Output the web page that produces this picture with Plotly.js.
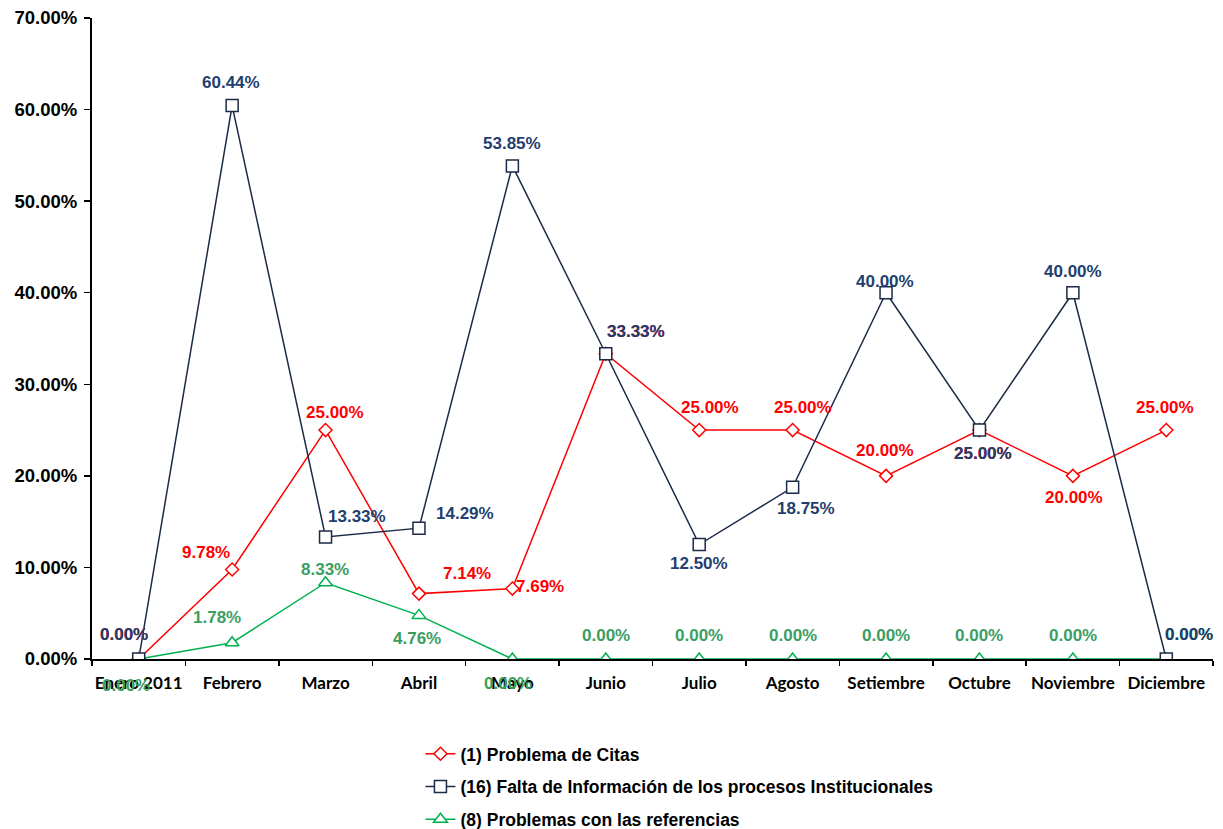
<!DOCTYPE html>
<html>
<head>
<meta charset="utf-8">
<script src="https://cdn.plot.ly/plotly-3.0.1.min.js"></script>
<style>html,body{margin:0;padding:0;background:#fff;}#chart{width:1223px;height:829px;}</style>
</head>
<body>
<div id="chart"></div>
<script>
// ---- Data ----
var months = ["Enero 2011","Febrero","Marzo","Abril","Mayo","Junio","Julio","Agosto","Setiembre","Octubre","Noviembre","Diciembre"];
var citas = [0.0, 0.0978, 0.25, 0.0714, 0.0769, 0.3333, 0.25, 0.25, 0.20, 0.25, 0.20, 0.25];
var faltaInfo = [0.0, 0.6044, 0.1333, 0.1429, 0.5385, 0.3333, 0.125, 0.1875, 0.40, 0.25, 0.40, 0.0];
var referencias = [0.0, 0.0178, 0.0833, 0.0476, 0.0, 0.0, 0.0, 0.0, 0.0, 0.0, 0.0, 0.0];
var names = ["(1) Problema de Citas", "(16) Falta de Información de los procesos Institucionales", "(8) Problemas con las referencias"];

// ---- Label offsets (px, label centre relative to marker) ----
var offRed = [[-15,-25],[-26,-17],[9,-18],[48,-20],[28,-2],[30,-22],[11,-23],[10,-23],[-1,-25],[4,23],[1,22],[-1,-23]];
var offBlue = [[-15,-25],[-1,-23],[31,-20],[46,-15],[0,-22],[30,-22],[0,19],[13,21],[-1,-11],[4,23],[0,-21],[23,-25]];
var offGreen = [[-13,26],[-15,-25],[-1,-13],[-2,23],[-4,24],[0,-24],[0,-24],[0,-24],[0,-24],[0,-24],[0,-24],[23,-25]];

var RED = "#FF0000", NAVY = "#1B2A47", GREEN = "#00B050";
var RED_T = "#FF0000", NAVY_T = "#1F3F6E", GREEN_T = "#3A9E62";

var traces = [
  {x: months, y: citas, name: names[0], type: "scatter", mode: "lines+markers", legendrank: 1, legendgroup: "a",
   line: {color: RED, width: 1.5},
   marker: {symbol: "diamond", size: 10, color: "#fff", line: {color: RED, width: 1.5}}},
  {x: months, y: referencias, name: names[2], type: "scatter", mode: "lines+markers", legendrank: 3, legendgroup: "c",
   line: {color: GREEN, width: 1.5},
   marker: {symbol: "triangle-up", size: 12, color: "#fff", line: {color: GREEN, width: 1.5}}},
  {x: months, y: faltaInfo, name: names[1], type: "scatter", mode: "lines+markers", legendrank: 2, legendgroup: "b",
   line: {color: NAVY, width: 1.5},
   marker: {symbol: "square", size: 12, color: "#fff", line: {color: NAVY, width: 1.5}}}
];

function pct(v){ return (v*100).toFixed(2) + "%"; }
var annotations = [];
function addLabels(vals, offs, col){
  vals.forEach(function(v, i){
    annotations.push({x: months[i], y: v, xref: "x", yref: "y", text: pct(v), showarrow: false,
      xshift: offs[i][0], yshift: -offs[i][1],
      font: {family: "Liberation Sans, Arial, sans-serif", size: 17, color: col, weight: "bold"}});
  });
}
addLabels(citas, offRed, RED_T);
addLabels(referencias, offGreen, GREEN_T);
addLabels(faltaInfo, offBlue, NAVY_T);

var layout = {
  width: 1223, height: 829,
  margin: {l: 92, r: 10, t: 18, b: 170, autoexpand: false},
  paper_bgcolor: "#fff", plot_bgcolor: "#fff",
  showlegend: true,
  legend: {x: 0.293, y: -0.12, xanchor: "left", yanchor: "top", orientation: "v",
    font: {family: "Liberation Sans, Arial, sans-serif", size: 17.5, color: "#000", weight: "bold"},
    tracegroupgap: 7, itemwidth: 30},
  xaxis: {type: "category", range: [-0.5, 11.5], showline: true, linecolor: "#000", linewidth: 2,
    ticks: "outside", tickson: "boundaries", ticklen: 5, tickwidth: 1.5, tickcolor: "#000",
    tickangle: 0, showgrid: false, zeroline: false, automargin: false, ticklabelstandoff: 8,
    tickfont: {family: "Lato, Carlito, sans-serif", size: 17, color: "#000", weight: "bold"}},
  yaxis: {range: [0, 0.70], dtick: 0.1, tick0: 0, tickformat: ".2%", showline: true, linecolor: "#000", linewidth: 2,
    ticks: "outside", ticklen: 6, tickwidth: 1.5, tickcolor: "#000", showgrid: false, zeroline: false,
    ticklabelstandoff: 3, automargin: false,
    tickfont: {family: "Liberation Sans, Arial, sans-serif", size: 18.5, color: "#000", weight: "bold"}},
  annotations: annotations
};

Plotly.newPlot("chart", traces, layout, {displayModeBar: false, staticPlot: true});
</script>
</body>
</html>
